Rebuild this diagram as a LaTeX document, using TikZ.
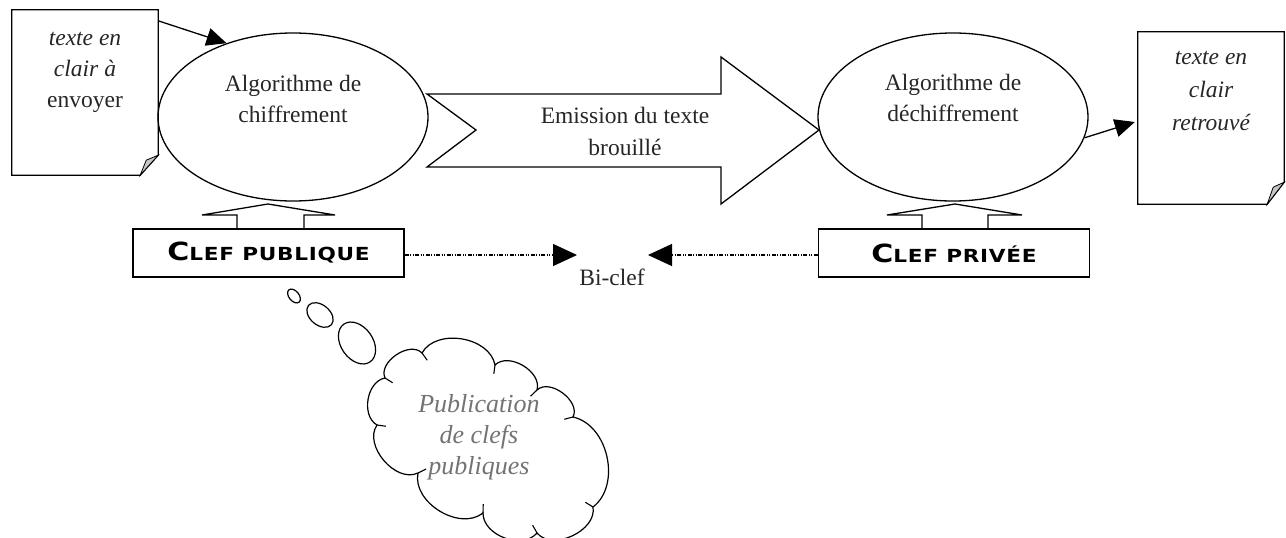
\documentclass[tikz,border=0pt]{standalone}
\usepackage{fontspec}
\setmainfont{Liberation Serif}
\newfontfamily\cpfont[FakeStretch=1.2,LetterSpace=4]{DejaVu Sans}
\usetikzlibrary{shapes.geometric,arrows.meta,calc}
\tikzset{
  outl/.style={draw=black, line width=1.3pt},
  ell/.style={outl, ellipse, minimum width=270pt, minimum height=168pt, inner sep=0pt},
  docarea/.style={rectangle, inner sep=0pt},
  txt/.style={align=center, inner sep=0pt, text=black!85, font=\fontsize{23.5}{31}\selectfont},
  keybox/.style={outl, rectangle, inner sep=0pt, minimum width=271pt, minimum height=48pt},
  arr/.style={line width=1.3pt, -{Triangle[length=20pt,width=18pt]}},
  dotarr/.style={line width=1.2pt, dash pattern=on 4pt off 1.5pt on 1pt off 1.5pt on 1pt off 1.5pt,
                 -{Triangle[length=24pt,width=22pt]}},
  fold/.style={fill=gray!45, draw=black, line width=0.8pt},
  bubble/.style={outl, line width=1.2pt},
  puff/.style={bend left=#1}
}
\newcommand{\ckey}[2]{{\cpfont\bfseries{\fontsize{25}{25}\selectfont #1}\fontsize{18}{18}\selectfont #2}}
\begin{document}
\begin{tikzpicture}[x=1pt,y=-1pt]
\useasboundingbox (0,0) rectangle (1286,538);

% documents
\node[docarea, minimum width=146pt, minimum height=165pt] (d1) at (85,92.5) {};
\draw[outl] (d1.north west) -- (d1.north east) -- ([yshift=20pt]d1.south east)
  -- ([xshift=-18pt]d1.south east) -- (d1.south west) -- cycle;
\draw[fold] ([yshift=20pt]d1.south east) -- ([xshift=-18pt]d1.south east)
  -- ([xshift=-12pt,yshift=15pt]d1.south east) -- cycle;
\node[txt, font=\fontsize{23.5}{31}\selectfont] (d1t) at (85,72) {\itshape texte en\\ \itshape clair à\\ envoyer};

\node[docarea, minimum width=146pt, minimum height=172pt] (d2) at (1211,118) {};
\draw[outl] (d2.north west) -- (d2.north east) -- ([yshift=22pt]d2.south east)
  -- ([xshift=-17pt]d2.south east) -- (d2.south west) -- cycle;
\draw[fold] ([yshift=22pt]d2.south east) -- ([xshift=-17pt]d2.south east)
  -- ([xshift=-11pt,yshift=17pt]d2.south east) -- cycle;
\node[txt, font=\fontsize{23.5}{33}\selectfont] (d2t) at (1211,91) {\itshape texte en\\ \itshape clair\\ \itshape retrouvé};

% ellipses
\node[ell] (e1) at (293,117) {};
\node[txt] (e1t) at (293,99) {Algorithme de\\chiffrement};
\node[ell] (e2) at (953,117) {};
\node[txt] (e2t) at (953,98) {Algorithme de\\déchiffrement};

% big arrow
\draw[outl, line join=miter] (427,94) -- (721,94) -- (721,57) -- (819,130) -- (721,204)
  -- (721,167) -- (427,167) -- (476,130) -- cycle;
\node[txt, font=\fontsize{23.5}{32}\selectfont] (em) at (625,131) {Emission du texte\\brouillé};

% key boxes
\node[keybox] (b1) at (268.5,253) {\ckey{C}{LEF PUBLIQUE}};
\node[keybox] (b2) at (954,253) {\ckey{C}{LEF PRIVÉE}};

% wedges between keys and ellipses
\draw[outl] (237,229) -- (237,215) -- (202,215) -- (268,204) -- (335,215) -- (304,215) -- (304,229);
\draw[outl] (922,229) -- (922,215) -- (887,215) -- (955,204) -- (1022,215) -- (988,215) -- (988,229);

% bi-clef
\node[txt, anchor=base] (bc) at (612,285) {Bi-clef};
\coordinate (tl) at (577,255);
\coordinate (tr) at (648,255);
\draw[dotarr] (b1.east |- tl) -- (tl);
\draw[dotarr] (b2.west |- tr) -- (tr);

% connectors docs <-> ellipses
\draw[arr] ([yshift=-11pt]d1.north east) -- (e1.132);
\draw[arr] (e2.-9) -- ([xshift=-3pt,yshift=-4pt]d2.west);

% thought bubbles and cloud
\draw[bubble, rotate around={-50:(294,296)}] (294,296) ellipse (8pt and 5pt);
\draw[bubble, rotate around={-40:(320,315)}] (320,315) ellipse (15pt and 10pt);
\draw[bubble, rotate around={-55:(357,343)}] (357,343) ellipse (23pt and 16pt);
\draw[outl, line width=1.2pt] (377,425) to[puff=70] (385,378) to[puff=80] (422,353)
  to[puff=70] (495,365) to[puff=75] (537,390) to[puff=80] (573,417)
  to[puff=65] (593,507) to[puff=75] (537,533) to[puff=70] (483,513)
  to[puff=70] (418,473) to[puff=75] (377,425) -- cycle;
\coordinate (cc) at (485,440);
\foreach \px/\py in {385/378,422/353,495/365,537/390,573/417,593/507,537/533,483/513,418/473,377/425}
  \draw[line width=1.1pt] (\px,\py) -- ($(\px,\py)!9pt!(cc)$);
\node[txt, text=black!55, font=\fontsize{26}{31}\selectfont\itshape] (clt) at (479,437) {Publication\\de clefs\\publiques};
\end{tikzpicture}
\end{document}
